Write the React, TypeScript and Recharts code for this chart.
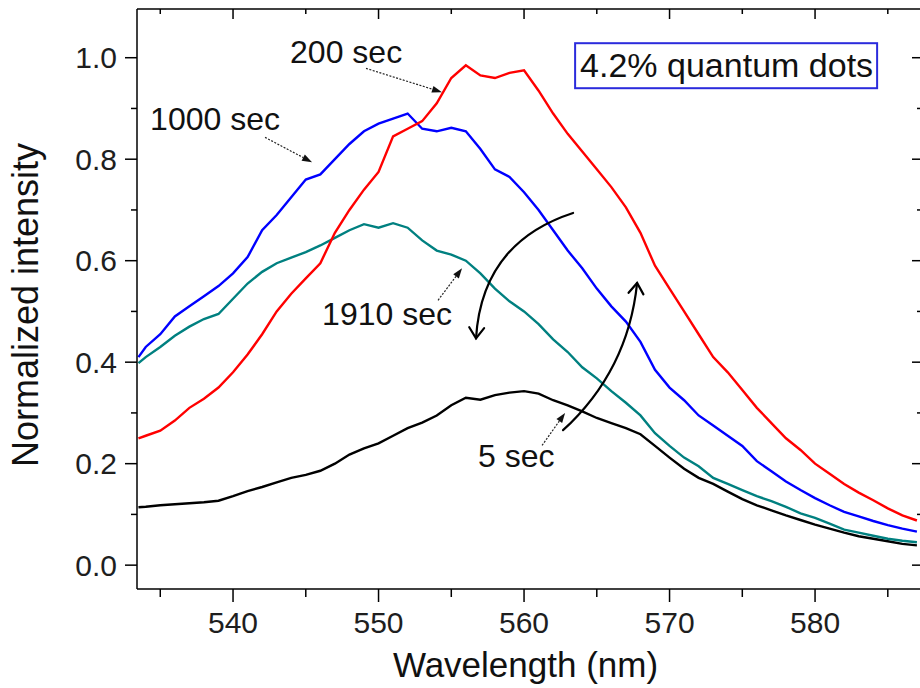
import React from 'react';
import { LineChart, Line, XAxis, YAxis, ReferenceLine, ReferenceDot, Label } from 'recharts';

// ---- data ----
const wavelengths = [533.5, 534, 535, 536, 537, 538, 539, 540, 541, 542, 543, 544, 545, 546, 547, 548, 549, 550, 551, 552, 553, 554, 555, 556, 557, 558, 559, 560, 561, 562, 563, 564, 565, 566, 567, 568, 569, 570, 571, 572, 573, 574, 575, 576, 577, 578, 579, 580, 581, 582, 583, 584, 585, 586, 587];

const sec200 = [0.25, 0.255, 0.265, 0.285, 0.31, 0.328, 0.35, 0.38, 0.415, 0.455, 0.5, 0.535, 0.565, 0.595, 0.655, 0.7, 0.74, 0.775, 0.845, 0.86, 0.875, 0.91, 0.96, 0.985, 0.965, 0.96, 0.97, 0.975, 0.935, 0.89, 0.85, 0.815, 0.78, 0.745, 0.705, 0.655, 0.59, 0.545, 0.5, 0.455, 0.41, 0.38, 0.345, 0.31, 0.28, 0.25, 0.227, 0.2, 0.18, 0.16, 0.143, 0.128, 0.112, 0.098, 0.088];

const sec1000 = [0.41, 0.43, 0.455, 0.49, 0.51, 0.53, 0.55, 0.575, 0.607, 0.66, 0.69, 0.725, 0.76, 0.77, 0.8, 0.83, 0.855, 0.87, 0.88, 0.89, 0.86, 0.855, 0.862, 0.855, 0.82, 0.78, 0.765, 0.735, 0.7, 0.66, 0.62, 0.585, 0.545, 0.51, 0.48, 0.44, 0.385, 0.35, 0.325, 0.295, 0.275, 0.255, 0.235, 0.205, 0.185, 0.165, 0.148, 0.132, 0.118, 0.105, 0.096, 0.087, 0.079, 0.072, 0.066];

const sec1910 = [0.398, 0.41, 0.43, 0.452, 0.47, 0.485, 0.495, 0.525, 0.555, 0.578, 0.595, 0.606, 0.617, 0.63, 0.645, 0.66, 0.672, 0.665, 0.674, 0.665, 0.64, 0.62, 0.612, 0.6, 0.575, 0.545, 0.52, 0.5, 0.475, 0.445, 0.42, 0.39, 0.368, 0.343, 0.32, 0.295, 0.26, 0.235, 0.212, 0.195, 0.172, 0.16, 0.148, 0.136, 0.126, 0.115, 0.102, 0.093, 0.082, 0.07, 0.064, 0.058, 0.052, 0.048, 0.045];

const sec5 = [0.114, 0.115, 0.118, 0.12, 0.122, 0.124, 0.127, 0.136, 0.146, 0.154, 0.163, 0.172, 0.178, 0.186, 0.2, 0.218, 0.23, 0.24, 0.255, 0.27, 0.281, 0.295, 0.315, 0.33, 0.326, 0.335, 0.34, 0.343, 0.338, 0.325, 0.315, 0.303, 0.29, 0.28, 0.27, 0.258, 0.235, 0.212, 0.19, 0.172, 0.16, 0.145, 0.13, 0.118, 0.108, 0.098, 0.089, 0.08, 0.072, 0.064, 0.057, 0.052, 0.047, 0.042, 0.039];

const xMajorTicks = [540, 550, 560, 570, 580];
const xMinorTicks = [535, 545, 555, 565, 575, 585];
const yMajorTicks = [0, 0.2, 0.4, 0.6, 0.8, 1.0];
const yMinorTicks = [0.1, 0.3, 0.5, 0.7, 0.9];
const seriesNames = ['200 sec', '1000 sec', '1910 sec', '5 sec'];
const boxTitle = '4.2% quantum dots';
const xTitle = 'Wavelength (nm)';
const yTitle = 'Normalized intensity';

const data = wavelengths.map((wl, i) => ({
  wl,
  s200: sec200[i],
  s1000: sec1000[i],
  s1910: sec1910[i],
  s5: sec5[i],
}));

const FONT = 'Liberation Sans, Arial, Helvetica, sans-serif';
const near = (arr: number[], v: number) => arr.some((t) => Math.abs(t - v) < 1e-6);

const LeftTick = (props: any) => {
  const { x, y, payload } = props;
  const major = near(yMajorTicks, payload.value);
  return (
    <g>
      <line x1={x} y1={y} x2={x - (major ? 12 : 6)} y2={y} stroke="#000" strokeWidth={1.5} />
      {major && (
        <text x={x - 20} y={y + 10.5} textAnchor="end" fontSize={30} fill="#1e1e1e" fontFamily={FONT}>
          {Number(payload.value).toFixed(1)}
        </text>
      )}
    </g>
  );
};

const BottomTick = (props: any) => {
  const { x, y, payload } = props;
  const major = near(xMajorTicks, payload.value);
  return (
    <g>
      <line x1={x} y1={y} x2={x} y2={y + (major ? 13 : 8)} stroke="#000" strokeWidth={1.5} />
      {major && (
        <text x={x} y={y + 44} textAnchor="middle" fontSize={30} fill="#1e1e1e" fontFamily={FONT}>
          {payload.value}
        </text>
      )}
    </g>
  );
};

const TopTick = (props: any) => {
  const { x, y, payload } = props;
  const major = near(xMajorTicks, payload.value);
  return <line x1={x} y1={y} x2={x} y2={y + (major ? 10 : 5)} stroke="#000" strokeWidth={1.5} />;
};

const RightTick = (props: any) => {
  const { x, y, payload } = props;
  const major = near(yMajorTicks, payload.value);
  return <line x1={x} y1={y} x2={x - (major ? 10 : 5)} y2={y} stroke="#000" strokeWidth={1.5} />;
};

const dashArrow = (props: any) => {
  const { x1, y1, x2, y2 } = props;
  const dx = x2 - x1;
  const dy = y2 - y1;
  const len = Math.sqrt(dx * dx + dy * dy) || 1;
  const ux = dx / len;
  const uy = dy / len;
  const bx = x2 - 10 * ux;
  const by = y2 - 10 * uy;
  const px = -uy;
  const py = ux;
  return (
    <g>
      <line x1={x1} y1={y1} x2={bx} y2={by} stroke="#222" strokeWidth={1.2} strokeDasharray="2 1.5" />
      <polygon
        points={`${x2},${y2} ${bx + 3.5 * px},${by + 3.5 * py} ${bx - 3.5 * px},${by - 3.5 * py}`}
        fill="#111"
      />
    </g>
  );
};

const curvedArrow = (bulge: number) => (props: any) => {
  const { x1, y1, x2, y2 } = props;
  const dx = x2 - x1;
  const dy = y2 - y1;
  const cx = (x1 + x2) / 2 - bulge * dy;
  const cy = (y1 + y2) / 2 + bulge * dx;
  const tx = x2 - cx;
  const ty = y2 - cy;
  const tl = Math.sqrt(tx * tx + ty * ty) || 1;
  const ux = tx / tl;
  const uy = ty / tl;
  const L = 13;
  const a = (35 * Math.PI) / 180;
  const rot = (ang: number) => [
    -(ux * Math.cos(ang) - uy * Math.sin(ang)) * L,
    -(ux * Math.sin(ang) + uy * Math.cos(ang)) * L,
  ];
  const [ax, ay] = rot(a);
  const [bx, by] = rot(-a);
  return (
    <g fill="none" stroke="#000" strokeWidth={2.2} strokeLinecap="round">
      <path d={`M${x1},${y1} Q${cx},${cy} ${x2},${y2}`} />
      <path d={`M${x2 + ax},${y2 + ay} L${x2},${y2} L${x2 + bx},${y2 + by}`} />
    </g>
  );
};

const textMark = (text: string, size: number) => (props: any) => (
  <text x={props.cx} y={props.cy} fontSize={size} fill="#111" fontFamily={FONT}>
    {text}
  </text>
);

const boxMark = (props: any) => (
  <g>
    <rect x={props.cx} y={props.cy} width={302} height={45} fill="#fff" stroke="#2b2bdc" strokeWidth={2} />
    <text x={props.cx + 5} y={props.cy + 34} fontSize={34} fill="#111" fontFamily={FONT}>
      {boxTitle}
    </text>
  </g>
);

const YTitle = (props: any) => {
  const vb = props.viewBox || { x: 0, y: 9, width: 137, height: 580 };
  const x = vb.x + 38;
  const y = vb.y + vb.height / 2 + 6;
  return (
    <text x={x} y={y} transform={`rotate(-90, ${x}, ${y})`} textAnchor="middle" fontSize={36} fill="#111" fontFamily={FONT}>
      {yTitle}
    </text>
  );
};

const XTitle = (props: any) => {
  const vb = props.viewBox || { x: 137, y: 589, width: 785, height: 99 };
  return (
    <text x={vb.x + vb.width / 2 - 4} y={vb.y + 88} textAnchor="middle" fontSize={35} fill="#111" fontFamily={FONT}>
      {xTitle}
    </text>
  );
};

const xDomain: [number, number] = [533.4, 587.35];
const yDomain: [number, number] = [-0.047, 1.096];

export default function App() {
  return (
    <div style={{ position: 'absolute', left: 0, top: 0, width: 920, height: 688, overflow: 'hidden', background: '#fff' }}>
      <LineChart width={930} height={688} data={data} margin={{ top: 8, right: 7, bottom: 0, left: 0 }}>
        <XAxis
          dataKey="wl"
          type="number"
          domain={xDomain}
          allowDataOverflow
          ticks={[...xMajorTicks, ...xMinorTicks].sort((a, b) => a - b)}
          interval={0}
          height={99}
          tickSize={0}
          tickMargin={0}
          tickLine={false}
          tick={<BottomTick />}
          axisLine={{ stroke: '#000', strokeWidth: 1.5 }}
        >
          <Label content={<XTitle />} />
        </XAxis>
        <XAxis
          xAxisId="top"
          orientation="top"
          dataKey="wl"
          type="number"
          domain={xDomain}
          allowDataOverflow
          ticks={[...xMajorTicks, ...xMinorTicks].sort((a, b) => a - b)}
          interval={0}
          height={1}
          tickSize={0}
          tickMargin={0}
          tickLine={false}
          tick={<TopTick />}
          axisLine={{ stroke: '#000', strokeWidth: 1.5 }}
        />
        <YAxis
          type="number"
          domain={yDomain}
          allowDataOverflow
          ticks={[...yMajorTicks, ...yMinorTicks].sort((a, b) => a - b)}
          interval={0}
          width={137}
          tickSize={0}
          tickMargin={0}
          tickLine={false}
          tick={<LeftTick />}
          axisLine={{ stroke: '#000', strokeWidth: 1.5 }}
        >
          <Label content={<YTitle />} />
        </YAxis>
        <YAxis
          yAxisId="right"
          orientation="right"
          type="number"
          domain={yDomain}
          allowDataOverflow
          ticks={[...yMajorTicks, ...yMinorTicks].sort((a, b) => a - b)}
          interval={0}
          width={1}
          tickSize={0}
          tickMargin={0}
          tickLine={false}
          tick={<RightTick />}
          axisLine={{ stroke: '#000', strokeWidth: 1.5 }}
        />

        <Line dataKey="s5" name={seriesNames[3]} stroke="#000000" strokeWidth={2.4} dot={false} type="linear" isAnimationActive={false} />
        <Line dataKey="s1910" name={seriesNames[2]} stroke="#008080" strokeWidth={2.4} dot={false} type="linear" isAnimationActive={false} />
        <Line dataKey="s1000" name={seriesNames[1]} stroke="#0000ff" strokeWidth={2.4} dot={false} type="linear" isAnimationActive={false} />
        <Line dataKey="s200" name={seriesNames[0]} stroke="#ff0000" strokeWidth={2.4} dot={false} type="linear" isAnimationActive={false} />

        {/* pointer arrows */}
        <ReferenceLine segment={[{ x: 549.14, y: 0.979 }, { x: 554.36, y: 0.932 }]} shape={dashArrow} />
        <ReferenceLine segment={[{ x: 542.2, y: 0.843 }, { x: 545.43, y: 0.794 }]} shape={dashArrow} />
        <ReferenceLine segment={[{ x: 554.09, y: 0.522 }, { x: 555.74, y: 0.585 }]} shape={dashArrow} />
        <ReferenceLine segment={[{ x: 561.24, y: 0.236 }, { x: 562.82, y: 0.3 }]} shape={dashArrow} />

        {/* curved trend arrows */}
        <ReferenceLine segment={[{ x: 563.37, y: 0.694 }, { x: 556.7, y: 0.447 }]} shape={curvedArrow(0.34)} />
        <ReferenceLine segment={[{ x: 562.68, y: 0.266 }, { x: 567.77, y: 0.556 }]} shape={curvedArrow(0.19)} />

        {/* series labels */}
        <ReferenceDot x={543.92} y={0.989} r={0} shape={textMark(seriesNames[0], 32)} />
        <ReferenceDot x={534.3} y={0.857} r={0} shape={textMark(seriesNames[1], 32)} />
        <ReferenceDot x={546.12} y={0.473} r={0} shape={textMark(seriesNames[2], 32)} />
        <ReferenceDot x={556.84} y={0.193} r={0} shape={textMark(seriesNames[3], 32)} />

        <ReferenceDot x={563.51} y={1.0286} r={0} shape={boxMark} />
      </LineChart>
    </div>
  );
}
